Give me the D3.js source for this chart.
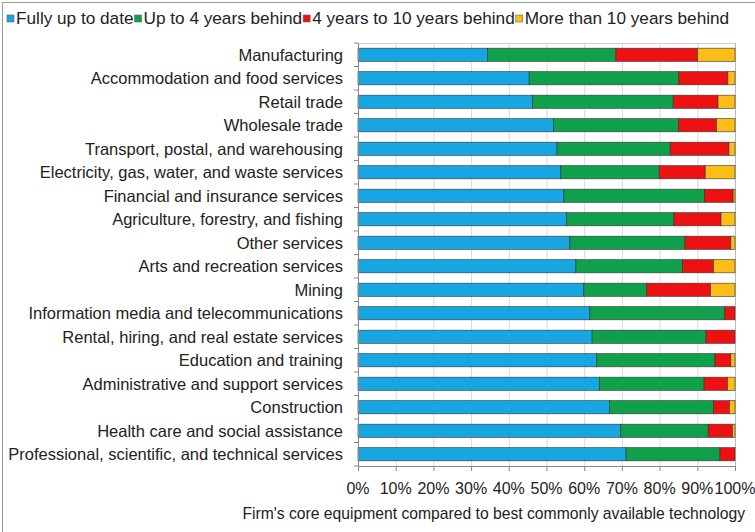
<!DOCTYPE html>
<html>
<head>
<meta charset="utf-8">
<title>Core equipment by industry</title>
<script src="https://cdnjs.cloudflare.com/ajax/libs/d3/7.8.5/d3.min.js"></script>
<style>
body { margin: 0; background: #fff; }
text { font-family: "Liberation Sans", Arial, sans-serif; fill: #222; }
.grid line { stroke: #d9d9d9; }
.grid path { display: none; }
.bar { stroke: #333; stroke-width: 0.6; }
</style>
</head>
<body>
<svg id="chart"></svg>
<script>
var industries = [
  "Manufacturing",
  "Accommodation and food services",
  "Retail trade",
  "Wholesale trade",
  "Transport, postal, and warehousing",
  "Electricity, gas, water, and waste services",
  "Financial and insurance services",
  "Agriculture, forestry, and fishing",
  "Other services",
  "Arts and recreation services",
  "Mining",
  "Information media and telecommunications",
  "Rental, hiring, and real estate services",
  "Education and training",
  "Administrative and support services",
  "Construction",
  "Health care and social assistance",
  "Professional, scientific, and technical services"
];

var seriesNames = ["Fully up to date", "Up to 4 years behind", "4 years to 10 years behind", "More than 10 years behind"];

var upToDate   = [34.4, 45.4, 46.3, 51.9, 52.8, 53.8, 54.6, 55.3, 56.2, 57.8, 59.9, 61.5, 62.1, 63.3, 64.0, 66.7, 69.7, 71.1];
var upTo4      = [34.0, 39.7, 37.3, 33.1, 30.0, 26.1, 37.3, 28.5, 30.5, 28.3, 16.7, 35.8, 30.2, 31.4, 27.8, 27.6, 23.2, 24.9];
var from4to10  = [21.7, 13.0, 11.9, 10.1, 15.6, 12.2, 7.6, 12.5, 12.2, 8.2, 16.9, 2.7, 7.7, 4.2, 6.2, 4.2, 6.4, 4.0];
var over10     = [9.9, 1.9, 4.5, 4.9, 1.6, 7.9, 0.5, 3.7, 1.1, 5.7, 6.5, 0, 0, 1.1, 2.0, 1.5, 0.7, 0];

var xTicks = [0, 10, 20, 30, 40, 50, 60, 70, 80, 90, 100];
var colors = ["#18a6e2", "#0fa04c", "#ee1111", "#fbbd16"];

var width = 755, height = 532;
var margin = { top: 43, right: 20, bottom: 66, left: 358 };
var innerW = 735 - margin.left;
var innerH = height - margin.top - margin.bottom;

var svg = d3.select("#chart").attr("width", width).attr("height", height);

// outer frame
svg.append("line").attr("x1", 2.5).attr("x2", 2.5).attr("y1", 2).attr("y2", height)
  .attr("stroke", "#999");
svg.append("line").attr("x1", 2).attr("x2", width).attr("y1", 2.5).attr("y2", 2.5)
  .attr("stroke", "#999");

var g = svg.append("g").attr("transform", "translate(" + margin.left + "," + margin.top + ")");

var x = d3.scaleLinear().domain([0, 100]).range([0, innerW]);
var y = d3.scaleBand().domain(industries).range([0, innerH]).paddingInner(0.44).paddingOuter(0.22);
var yOuter = d3.scaleBand().domain(industries).range([0, innerH]);

// gridlines
g.append("g").attr("class", "grid")
  .call(d3.axisBottom(x).tickValues(xTicks).tickSize(innerH).tickFormat(""));
g.append("line").attr("x1", 0).attr("x2", innerW).attr("y1", 0.5).attr("y2", 0.5).attr("stroke", "#d0d0d0");
g.append("line").attr("x1", innerW + 0.5).attr("x2", innerW + 0.5).attr("y1", 0).attr("y2", innerH).attr("stroke", "#bbb");

// stacked data
var rows = industries.map(function(name, i) {
  return { name: name, s0: upToDate[i], s1: upTo4[i], s2: from4to10[i], s3: over10[i] };
});
var stack = d3.stack().keys(["s0", "s1", "s2", "s3"]);
var layers = stack(rows);

g.selectAll(".layer")
  .data(layers)
  .enter().append("g")
  .attr("class", "layer")
  .attr("fill", function(d, i) { return colors[i]; })
  .selectAll("rect")
  .data(function(d) { return d; })
  .enter().append("rect")
  .attr("class", "bar")
  .attr("x", function(d) { return x(d[0]); })
  .attr("width", function(d) { return Math.max(0, x(d[1]) - x(d[0])); })
  .attr("y", function(d) { return y(d.data.name); })
  .attr("height", y.bandwidth());

// left axis with ticks between categories
var leftAxis = g.append("g");
leftAxis.append("line").attr("x1", 0.5).attr("x2", 0.5).attr("y1", 0).attr("y2", innerH).attr("stroke", "#888");
leftAxis.selectAll(".sep")
  .data(industries.concat([null]))
  .enter().append("line")
  .attr("x1", -4).attr("x2", 0)
  .attr("y1", function(d, i) { return i * yOuter.step(); })
  .attr("y2", function(d, i) { return i * yOuter.step(); })
  .attr("stroke", "#888");

g.selectAll(".cat")
  .data(industries)
  .enter().append("text")
  .attr("x", -15)
  .attr("y", function(d) { return y(d) + y.bandwidth() / 2; })
  .attr("dy", "0.35em")
  .attr("text-anchor", "end")
  .style("font-size", "16.5px")
  .text(function(d) { return d; });

// bottom axis
var bottom = g.append("g").attr("transform", "translate(0," + innerH + ")");
bottom.append("line").attr("x1", 0).attr("x2", innerW).attr("y1", 0.5).attr("y2", 0.5).attr("stroke", "#888");
bottom.selectAll(".tk")
  .data(xTicks)
  .enter().append("line")
  .attr("x1", function(d) { return x(d) + 0.5; })
  .attr("x2", function(d) { return x(d) + 0.5; })
  .attr("y1", 0).attr("y2", 5)
  .attr("stroke", "#888");
bottom.selectAll(".tl")
  .data(xTicks)
  .enter().append("text")
  .attr("x", function(d) { return x(d); })
  .attr("y", 28)
  .attr("text-anchor", "middle")
  .style("font-size", "16px")
  .text(function(d) { return d + "%"; });

svg.append("text")
  .attr("x", 745)
  .attr("y", 519)
  .attr("text-anchor", "end")
  .style("font-size", "15.7px")
  .text("Firm's core equipment compared to best commonly available technology");

// legend
var lx = 7;
seriesNames.forEach(function(name, i) {
  svg.append("rect")
    .attr("x", lx).attr("y", 15).attr("width", 7).attr("height", 7)
    .attr("fill", colors[i]).attr("stroke", "#666").attr("stroke-width", 0.6);
  var t = svg.append("text")
    .attr("x", lx + 9).attr("y", 24)
    .style("font-size", "17.2px")
    .text(name);
  lx += 9 + t.node().getComputedTextLength() + 1;
});
</script>
</body>
</html>
